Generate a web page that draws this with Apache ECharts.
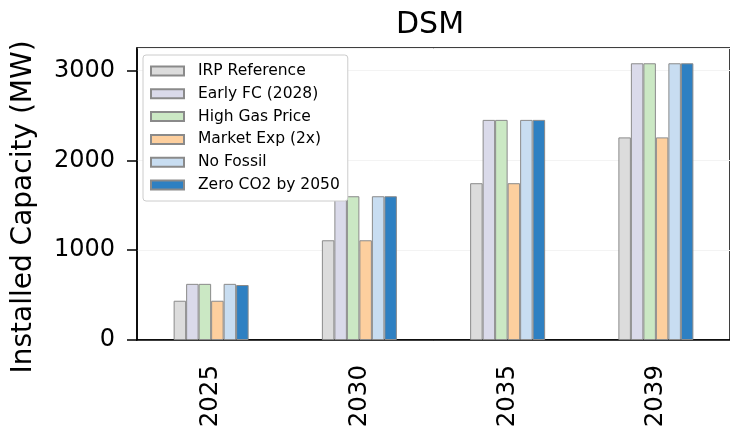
<!DOCTYPE html>
<html>
<head>
<meta charset="utf-8">
<script src="https://cdn.jsdelivr.net/npm/echarts@6/dist/echarts.min.js"></script>
<style>
  html, body { margin: 0; padding: 0; background: #fff; }
  #chart { width: 730px; height: 433px; }
</style>
</head>
<body>
<div id="chart"></div>
<script>
// DSM installed capacity by scenario (MW)
const years = ['2025', '2030', '2035', '2039'];
const scenarioNames = ['IRP Reference', 'Early FC (2028)', 'High Gas Price', 'Market Exp (2x)', 'No Fossil', 'Zero CO2 by 2050'];
const irpReference = [437, 1110, 1745, 2255];
const earlyFC = [625, 1600, 2450, 3080];
const highGasPrice = [625, 1600, 2450, 3080];
const marketExp = [437, 1110, 1745, 2255];
const noFossil = [625, 1600, 2450, 3080];
const zeroCO2 = [612, 1600, 2450, 3080];
const yTicks = [0, 1000, 2000, 3000];

const seriesValues = [irpReference, earlyFC, highGasPrice, marketExp, noFossil, zeroCO2];
const fills = ['#dcdcdc', '#dadaea', '#cbe8c4', '#fdcf9e', '#c8ddf1', '#2e80c2'];
const FONT = 'DejaVu Sans';

const chart = echarts.init(document.getElementById('chart'), null, { renderer: 'canvas' });

chart.setOption({
  animation: false,
  backgroundColor: '#ffffff',
  title: {
    text: 'DSM',
    left: 391,
    top: 5,
    textStyle: { fontFamily: FONT, fontSize: 30, fontWeight: 'normal', color: '#000' }
  },
  legend: {
    orient: 'vertical',
    left: 143,
    top: 55,
    data: scenarioNames,
    itemWidth: 33,
    itemHeight: 9,
    itemGap: 6.8,
    padding: [8, 8, 8, 7],
    backgroundColor: '#ffffff',
    borderColor: '#cccccc',
    borderWidth: 1,
    borderRadius: 3,
    icon: 'rect',
    textStyle: { fontFamily: FONT, fontSize: 15.5, lineHeight: 16, color: '#000', padding: [0, 0, 0, 9] }
  },
  graphic: [{
    type: 'text',
    x: 24,
    y: 207,
    rotation: Math.PI / 2,
    style: {
      text: 'Installed Capacity (MW)',
      fontFamily: FONT,
      fontSize: 28,
      fill: '#000',
      align: 'center',
      verticalAlign: 'middle'
    }
  }],
  grid: { left: 137, top: 48, width: 598, height: 292, show: true, borderColor: '#000', borderWidth: 1.5, backgroundColor: 'transparent' },
  xAxis: {
    type: 'category',
    data: years,
    axisLine: { lineStyle: { color: '#000', width: 1.5 } },
    axisTick: { alignWithLabel: true, length: 10, lineStyle: { color: '#000', width: 1.5 } },
    axisLabel: { rotate: 90, margin: 25, fontFamily: FONT, fontSize: 24.5, color: '#000' }
  },
  yAxis: {
    type: 'value',
    min: 0,
    max: 3250,
    interval: 1000,
    axisLine: { show: true, lineStyle: { color: '#000', width: 1.5 } },
    axisTick: { show: true, length: 10, lineStyle: { color: '#000', width: 1.5 } },
    axisLabel: {
      margin: 22, fontFamily: FONT, fontSize: 24, color: '#000',
      showMaxLabel: false,
      formatter: v => (yTicks.indexOf(v) >= 0 ? String(v) : '')
    },
    splitLine: { show: true, lineStyle: { color: '#f3f3f3', width: 1 } }
  },
  series: scenarioNames.map((name, i) => ({
    name: name,
    type: 'bar',
    data: seriesValues[i],
    barWidth: 12.5,
    barGap: '0%',
    itemStyle: { color: fills[i], borderColor: '#8a8a8a', borderWidth: 1 }
  }))
});
</script>
</body>
</html>
